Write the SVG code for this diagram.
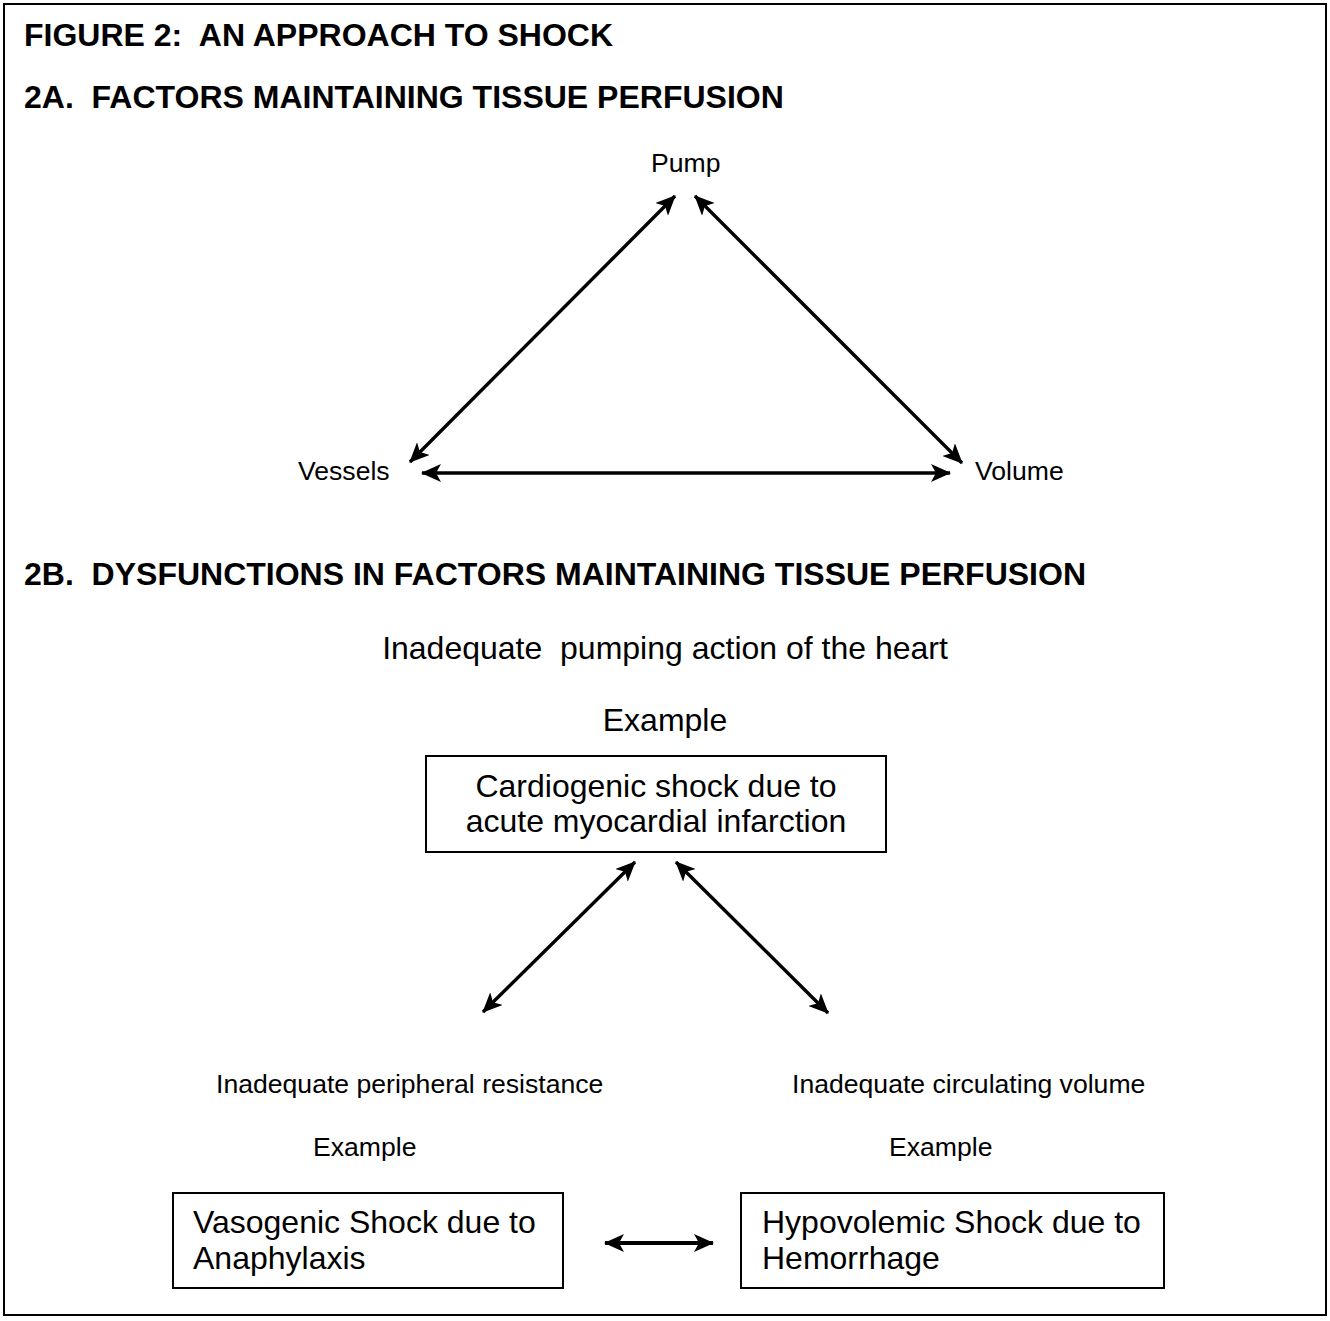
<svg xmlns="http://www.w3.org/2000/svg" width="1330" height="1321" viewBox="0 0 1330 1321">
<style>
text{font-family:"Liberation Sans",Arial,sans-serif;fill:#000}
.h{font-size:32px;font-weight:bold}
.s{font-size:26.6px}
.m{font-size:32px}
.box{fill:#fff;stroke:#000;stroke-width:2}
.c{fill:none;stroke:#000;stroke-width:3.4;marker-start:url(#ah);marker-end:url(#ah)}
</style>
<defs>
<marker id="ah" markerUnits="userSpaceOnUse" markerWidth="20" markerHeight="18" viewBox="0 0 20 18" refX="19" refY="9" orient="auto-start-reverse">
<path d="M0,0 L20,9 L0,18 L5,9 z" fill="#000"/>
</marker>
</defs>
<rect x="0" y="0" width="1330" height="1321" fill="#fff"/>
<rect x="4" y="4" width="1322" height="1311" fill="none" stroke="#000" stroke-width="2"/>
<g id="headings">
<text class="h" x="24" y="46" xml:space="preserve">FIGURE 2:  AN APPROACH TO SHOCK</text>
<text class="h" x="24" y="108" xml:space="preserve">2A.  FACTORS MAINTAINING TISSUE PERFUSION</text>
<text class="h" x="24" y="585" xml:space="preserve">2B.  DYSFUNCTIONS IN FACTORS MAINTAINING TISSUE PERFUSION</text>
</g>
<g id="pump"><text class="s" x="651" y="172">Pump</text></g>
<g id="vessels"><text class="s" x="298" y="480">Vessels</text></g>
<g id="volume"><text class="s" x="975" y="480">Volume</text></g>
<g id="pumping"><text class="m" x="665" y="659" text-anchor="middle" xml:space="preserve">Inadequate  pumping action of the heart</text>
<text class="m" x="665" y="731" text-anchor="middle">Example</text></g>
<g id="cardiogenic">
<rect class="box" x="426" y="756" width="460" height="96"/>
<text class="m" x="656" y="797" text-anchor="middle">Cardiogenic shock due to</text>
<text class="m" x="656" y="832" text-anchor="middle">acute myocardial infarction</text>
</g>
<g id="peripheral"><text class="s" x="216" y="1093">Inadequate peripheral resistance</text>
<text class="s" x="313" y="1156">Example</text></g>
<g id="circulating"><text class="s" x="792" y="1093">Inadequate circulating volume</text>
<text class="s" x="889" y="1156">Example</text></g>
<g id="vasogenic">
<rect class="box" x="173" y="1193" width="390" height="95"/>
<text class="m" x="193" y="1233">Vasogenic Shock due to</text>
<text class="m" x="193" y="1269">Anaphylaxis</text>
</g>
<g id="hypovolemic">
<rect class="box" x="741" y="1193" width="423" height="95"/>
<text class="m" x="762" y="1233">Hypovolemic Shock due to</text>
<text class="m" x="762" y="1269">Hemorrhage</text>
</g>
<g id="connectors">
<line class="c" x1="410" y1="462" x2="675" y2="196"/>
<line class="c" x1="695" y1="196" x2="962" y2="463"/>
<line class="c" x1="422" y1="473" x2="950" y2="473"/>
<line class="c" x1="635" y1="862" x2="483" y2="1012"/>
<line class="c" x1="676" y1="862" x2="828" y2="1013"/>
<line class="c" x1="605" y1="1243" x2="713" y2="1243" style="stroke-width:4.2"/>
</g>
</svg>
